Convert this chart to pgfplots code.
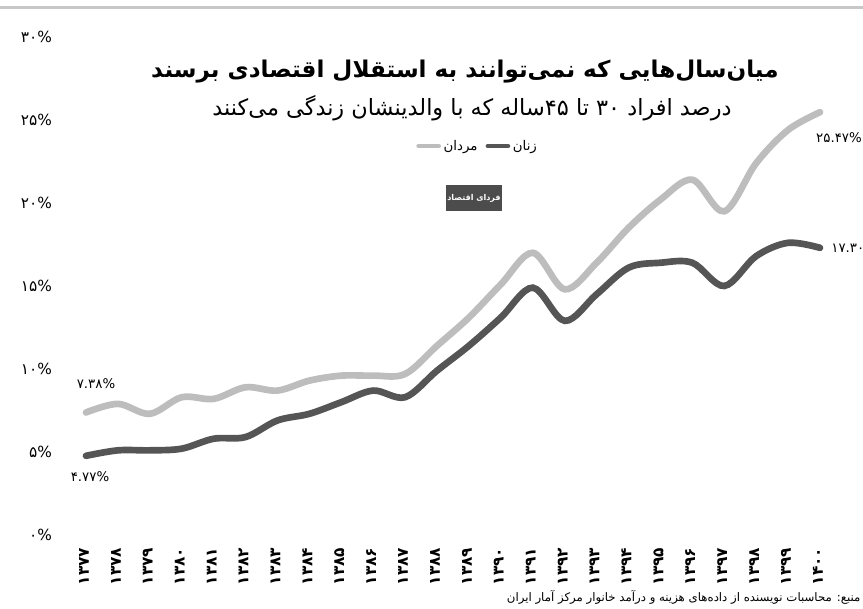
\documentclass[border=0pt]{standalone}
\usepackage{pgfplots}
\pgfplotsset{compat=1.18}
\usepackage{fontspec}
\setmainfont{DejaVu Sans}
\newfontfamily\arabicfont[Script=Arabic]{DejaVu Sans}
\TeXXeTstate=1
\definecolor{men}{HTML}{BDBDBD}
\definecolor{women}{HTML}{555555}
\pgfplotstableread{
year men women
1377 7.38 4.77
1378 7.9 5.1
1379 7.3 5.1
1380 8.3 5.2
1381 8.2 5.8
1382 8.9 5.9
1383 8.7 6.9
1384 9.3 7.3
1385 9.6 8.0
1386 9.6 8.7
1387 9.7 8.3
1388 11.4 9.9
1389 13.1 11.4
1390 15.1 13.1
1391 17.0 14.9
1392 14.8 12.9
1393 16.4 14.5
1394 18.5 16.1
1395 20.2 16.4
1396 21.4 16.4
1397 19.5 15.0
1398 22.4 16.8
1399 24.4 17.6
1400 25.47 17.30
}\datatable
\begin{document}
\begin{tikzpicture}[x=0.75pt,y=0.75pt]
\useasboundingbox (0,0) rectangle (863,609);
\draw[line width=2.25pt, color=black!22] (0,601) -- (863,601);
\node[font=\arabicfont\bfseries\fontsize{17.3}{20}\selectfont] at (465,537) {\beginR میان‌سال‌هایی که نمی‌توانند به استقلال اقتصادی برسند\endR};
\node[font=\arabicfont\fontsize{16.8}{20}\selectfont] at (472,501) {\beginR درصد افراد ۳۰ تا ۴۵ساله که با والدینشان زندگی می‌کنند\endR};
\node[fill=black!70, text=white, minimum width=39pt, minimum height=20pt, inner sep=1pt, font=\arabicfont\bfseries\fontsize{6}{7}\selectfont] at (474,411) {\beginR فردای اقتصاد\endR};
\node[anchor=east, inner sep=1pt, font=\arabicfont\fontsize{8.8}{11}\selectfont] at (862,12) {\beginR منبع: محاسبات نویسنده از داده‌های هزینه و درآمد خانوار مرکز آمار ایران\endR};
\begin{axis}[
  at={(64.5pt,55.5pt)}, anchor=south west,
  width=550.5pt, height=373.5pt, scale only axis,
  xmin=1377, xmax=1400, ymin=0, ymax=30,
  clip=false,
  axis line style={draw=none},
  major tick length=0pt,
  xtick={1377,...,1400},
  xticklabels={۱۳۷۷,۱۳۷۸,۱۳۷۹,۱۳۸۰,۱۳۸۱,۱۳۸۲,۱۳۸۳,۱۳۸۴,۱۳۸۵,۱۳۸۶,۱۳۸۷,۱۳۸۸,۱۳۸۹,۱۳۹۰,۱۳۹۱,۱۳۹۲,۱۳۹۳,۱۳۹۴,۱۳۹۵,۱۳۹۶,۱۳۹۷,۱۳۹۸,۱۳۹۹,۱۴۰۰},
  xticklabel style={rotate=90, anchor=east, xshift=-6pt, yshift=1.5pt, font=\arabicfont\bfseries\fontsize{11.5}{13}\selectfont},
  ytick={0,5,...,30},
  yticklabels={۰\%,۵\%,۱۰\%,۱۵\%,۲۰\%,۲۵\%,۳۰\%},
  yticklabel style={anchor=east, xshift=-22pt, font=\arabicfont\fontsize{11.5}{13}\selectfont},
  legend columns=2,
  legend style={draw=none, fill=none, at={(0.534,0.781)}, anchor=center,
    font=\arabicfont\fontsize{10}{12}\selectfont,
    /tikz/every even column/.append style={column sep=4pt}},
  legend image code/.code={\draw[#1, line width=3.5pt] (0pt,0pt) -- (15pt,0pt);},
]
\addplot[men, line width=5pt, line cap=round, smooth, tension=0.55] table[x=year, y=men] {\datatable};
\addlegendentry{\beginR مردان\endR}
\addplot[women, line width=5pt, line cap=round, smooth, tension=0.55] table[x=year, y=women] {\datatable};
\addlegendentry{\beginR زنان\endR}
\node[font=\arabicfont\fontsize{10}{12}\selectfont] at (axis cs:1377,7.38) [xshift=7.5pt, yshift=21.75pt] {۷.۳۸\%};
\node[font=\arabicfont\fontsize{10}{12}\selectfont] at (axis cs:1377,4.77) [xshift=3pt, yshift=-15.75pt] {۴.۷۷\%};
\node[font=\arabicfont\fontsize{10}{12}\selectfont] at (axis cs:1400,25.47) [xshift=14.25pt, yshift=-18.75pt] {۲۵.۴۷\%};
\node[font=\arabicfont\fontsize{10}{12}\selectfont, anchor=west] at (axis cs:1400,17.30) [xshift=5pt] {۱۷.۳۰\%};
\end{axis}
\end{tikzpicture}
\end{document}
